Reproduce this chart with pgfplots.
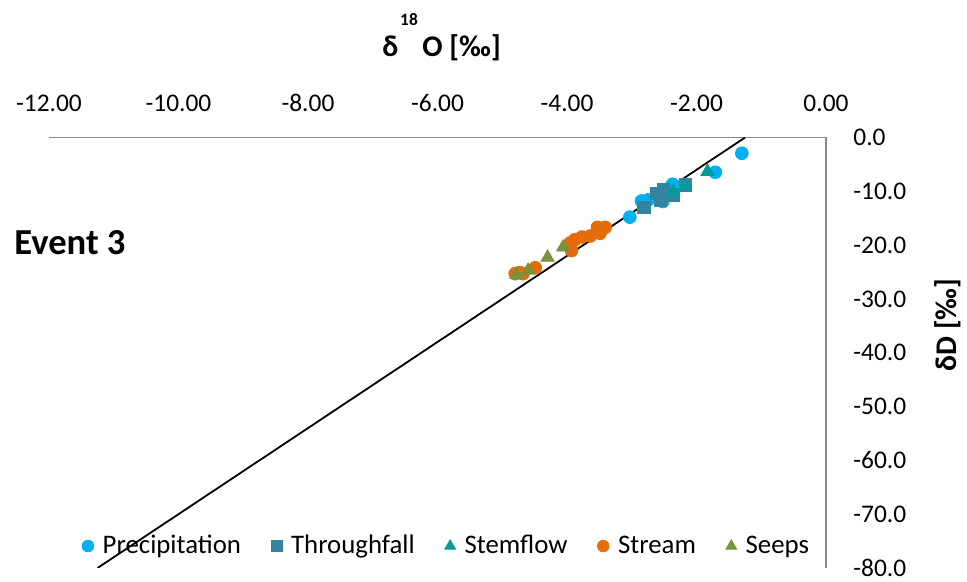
\documentclass[border=0pt]{standalone}
\usepackage{fontspec}
\setmainfont{Carlito}
\usepackage{pgfplots}
\pgfplotsset{compat=1.18}
\definecolor{cPrec}{HTML}{00B0F0}
\definecolor{cThru}{HTML}{31859C}
\definecolor{cStem}{HTML}{009C9C}
\definecolor{cStream}{HTML}{E46C0A}
\definecolor{cSeep}{HTML}{77933C}
\definecolor{axgray}{HTML}{898989}
\begin{document}
\begin{tikzpicture}
\begin{axis}[name=ax, at={(0,0)}, anchor=south west,
  scale only axis, width=388.5pt, height=215.25pt,
  xmin=-12, xmax=0, ymin=-80, ymax=0,
  axis x line=top, axis y line=right,
  axis line style={-, draw=axgray, line width=0.9pt},
  xtick={-12,-10,...,0},
  xticklabels={-12.00,-10.00,-8.00,-6.00,-4.00,-2.00,0.00},
  ytick={-80,-70,...,0},
  yticklabels={-80.0,-70.0,-60.0,-50.0,-40.0,-30.0,-20.0,-10.0,0.0},
  major tick length=0pt,
  xticklabel style={anchor=center, inner sep=0pt, yshift=17.25pt, font=\fontsize{12.7}{15}\selectfont},
  yticklabel style={anchor=west, inner sep=0pt, xshift=13.5pt, font=\fontsize{12.7}{15}\selectfont},
  legend columns=5,
  legend style={at={(0.513,0.051)}, anchor=center, draw=none, fill=none,
    font=\fontsize{13.4}{15}\selectfont,
    /tikz/every odd column/.append style={column sep=2.5pt},
    /tikz/every even column/.append style={column sep=13pt}},
  legend image code/.code={\draw[#1] plot coordinates {(0pt,0pt)};},
]
\addplot[only marks, color=cPrec, mark=*, mark size=3.2pt, mark options={solid, draw=cPrec, fill=cPrec}, legend image post style={mark size=2.9pt}]
coordinates {(-1.30,-2.93) (-1.71,-6.46) (-2.37,-8.69) (-2.85,-11.8) (-2.52,-11.9) (-3.03,-14.8) (-2.75,-11.6)};
\addlegendentry{Precipitation}
\addplot[only marks, color=cThru, mark=square*, mark size=3.1pt, mark options={solid, draw=cThru, fill=cThru}, legend image post style={mark size=2.8pt}]
coordinates {(-2.81,-12.96) (-2.61,-10.36) (-2.51,-9.6) (-2.36,-10.7) (-2.17,-8.8) (-2.56,-11.6)};
\addlegendentry{Throughfall}
\addplot[only marks, color=cStem, mark=triangle*, mark size=3.8pt, mark options={solid, draw=cStem, fill=cStem}, legend image post style={mark size=3.1pt}]
coordinates {(-1.83,-6.35) (-2.18,-9.0) (-2.36,-10.1)};
\addlegendentry{Stemflow}
\addplot[only marks, color=cStream, mark=*, mark size=3.2pt, mark options={solid, draw=cStream, fill=cStream}, legend image post style={mark size=2.9pt}]
coordinates {(-3.41,-16.7) (-3.53,-16.7) (-3.49,-17.8) (-3.64,-18.3) (-3.77,-18.5) (-3.95,-19.6) (-3.93,-21.0) (-3.88,-19.0) (-4.49,-24.2) (-4.73,-25.1) (-4.80,-25.3) (-4.68,-25.3)};
\addlegendentry{Stream}
\addplot[only marks, color=cSeep, mark=triangle*, mark size=3.8pt, mark options={solid, draw=cSeep, fill=cSeep}, legend image post style={mark size=3.1pt}]
coordinates {(-4.06,-20.4) (-4.30,-22.3) (-4.60,-24.7) (-4.78,-25.5)};
\addlegendentry{Seeps}
\addplot[black, line width=0.9pt, forget plot] coordinates {(-11.25,-80) (-1.25,0)};
\end{axis}
\node[anchor=base west, inner sep=0pt, font=\bfseries\fontsize{15}{17}\selectfont] at ([shift={(166.5pt,255.5pt)}]ax.south west) {δ};
\node[anchor=base west, inner sep=0pt, font=\bfseries\fontsize{15}{17}\selectfont] at ([shift={(186.5pt,255.5pt)}]ax.south west) {O [‰]};
\node[inner sep=0pt, font=\bfseries\fontsize{8.7}{10}\selectfont] at ([shift={(180pt,274.25pt)}]ax.south west) {18};
\node[anchor=base west, inner sep=0pt, font=\bfseries\fontsize{18.3}{21}\selectfont] at ([shift={(-17.5pt,156.5pt)}]ax.south west) {Event 3};
\node[rotate=90, inner sep=0pt, font=\bfseries\fontsize{15}{17}\selectfont] at ([shift={(449.5pt,121.5pt)}]ax.south west) {δD [‰]};
\pgfresetboundingbox
\path[use as bounding box] ([shift={(-24.5pt,-7pt)}]ax.south west) rectangle ([shift={(459pt,284pt)}]ax.south west);
\end{tikzpicture}
\end{document}
